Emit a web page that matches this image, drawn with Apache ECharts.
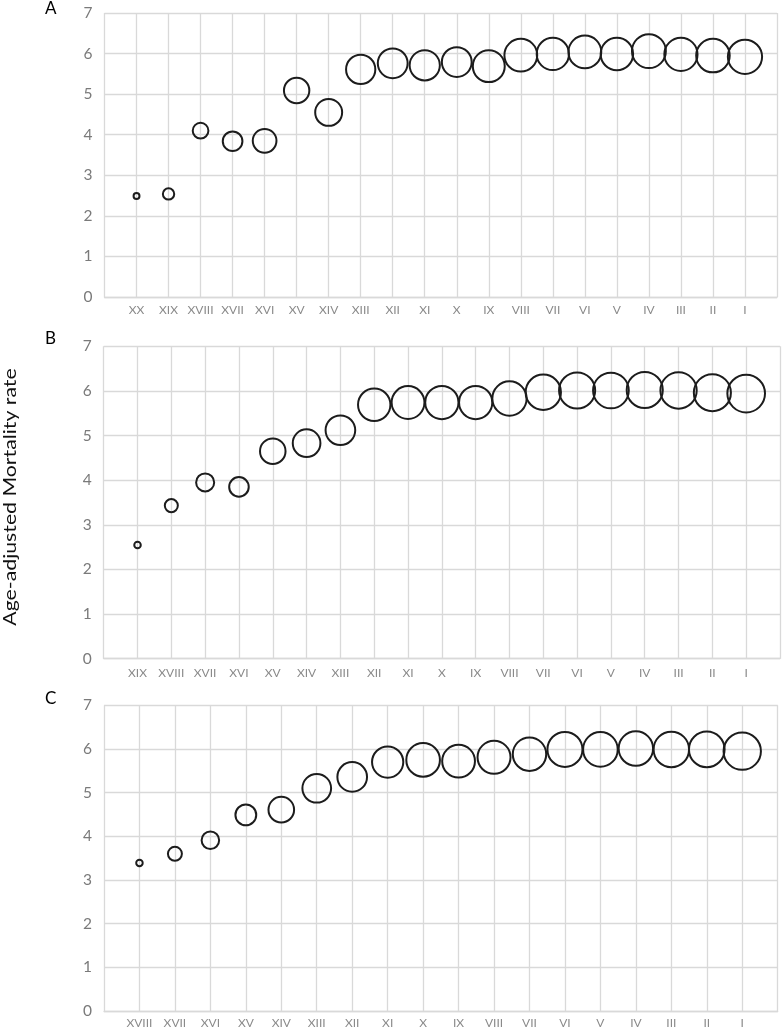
<!DOCTYPE html>
<html>
<head>
<meta charset="utf-8">
<script src="https://cdn.jsdelivr.net/npm/echarts@6/dist/echarts.min.js"></script>
<style>
html,body{margin:0;padding:0;background:#fff;}
#chart{width:783px;height:1029px;}
</style>
</head>
<body>
<div id="chart"></div>
<script>
// ---- Data ----
var labelsA = ['XX','XIX','XVIII','XVII','XVI','XV','XIV','XIII','XII','XI','X','IX','VIII','VII','VI','V','IV','III','II','I'];
var ratesA  = [2.49, 2.54, 4.10, 3.84, 3.85, 5.09, 4.55, 5.61, 5.76, 5.71, 5.79, 5.69, 5.96, 5.99, 6.04, 5.99, 6.06, 5.98, 5.95, 5.92];
var weightsA = [3, 11, 21, 33, 48, 55, 62, 73, 76, 78, 76, 87, 92, 89, 92, 90, 98, 94, 96, 100];

var labelsB = ['XIX','XVIII','XVII','XVI','XV','XIV','XIII','XII','XI','X','IX','VIII','VII','VI','V','IV','III','II','I'];
var ratesB  = [2.55, 3.43, 3.95, 3.85, 4.65, 4.83, 5.12, 5.69, 5.74, 5.74, 5.74, 5.83, 5.97, 6.01, 6.01, 6.02, 6.01, 5.96, 5.94];
var weightsB = [3, 12, 23, 27, 46, 54, 62, 74, 76, 78, 78, 83, 88, 92, 90, 92, 93, 97, 100];

var labelsC = ['XVIII','XVII','XVI','XV','XIV','XIII','XII','XI','X','IX','VIII','VII','VI','V','IV','III','II','I'];
var ratesC  = [3.39, 3.60, 3.91, 4.49, 4.61, 5.10, 5.36, 5.70, 5.75, 5.72, 5.81, 5.88, 5.99, 5.99, 6.01, 5.99, 5.99, 5.95];
var weightsC = [3, 14, 22, 31, 47, 59, 63, 70, 81, 77, 78, 80, 88, 86, 85, 90, 91, 100];

var yTicks = [0, 1, 2, 3, 4, 5, 6, 7];
var panelNames = ['A', 'B', 'C'];
var yTitle = 'Age-adjusted Mortality rate';

// ---- Layout ----
var panels = [
  {labels: labelsA, rates: ratesA, weights: weightsA, grid: {left: 104.5, top: 13, width: 672.5, height: 284}, letterTop: 0, labelMargin: 7},
  {labels: labelsB, rates: ratesB, weights: weightsB, grid: {left: 103.7, top: 346.3, width: 678, height: 312.4}, letterTop: 330, labelMargin: 8},
  {labels: labelsC, rates: ratesC, weights: weightsC, grid: {left: 104, top: 705.3, width: 673.7, height: 310}, letterTop: 690, labelMargin: 6}
];

var FONT = 'Lato, "Open Sans", sans-serif';
var GRID_COLOR = '#d9d9d9';
var grids = [], xAxes = [], yAxes = [], series = [], graphics = [];

panels.forEach(function (p, i) {
  grids.push(p.grid);
  var n = p.labels.length;
  var maxD = p.grid.height * 0.1205;
  xAxes.push({
    type: 'value', gridIndex: i, min: 0, max: n + 1, interval: 1,
    axisLine: {show: true, lineStyle: {color: GRID_COLOR, width: 1.3}},
    axisTick: {show: false},
    splitLine: {show: true, lineStyle: {color: GRID_COLOR, width: 1.3}},
    axisLabel: {
      color: '#8a8a8a', fontSize: 12, fontFamily: FONT, margin: p.labelMargin,
      formatter: (function (labs) { return function (v) { return labs[v - 1] || ''; }; })(p.labels)
    }
  });
  yAxes.push({
    type: 'value', gridIndex: i, min: yTicks[0], max: yTicks[yTicks.length - 1], interval: 1,
    axisLine: {show: false}, axisTick: {show: false},
    splitLine: {show: true, lineStyle: {color: GRID_COLOR, width: 1.3}},
    axisLabel: {color: '#7a7a7a', fontSize: 15.5, fontFamily: FONT, margin: 12}
  });
  series.push({
    type: 'scatter', xAxisIndex: i, yAxisIndex: i,
    data: p.rates.map(function (r, k) { return [k + 1, r, p.weights[k]]; }),
    symbol: 'circle',
    symbolSize: (function (md) { return function (d) { return md * Math.sqrt(d[2] / 100); }; })(maxD),
    itemStyle: {color: 'rgba(0,0,0,0)', borderColor: '#1c1c1c', borderWidth: 2, opacity: 1},
    silent: true, animation: false
  });
  graphics.push({
    type: 'text', left: 45, top: p.letterTop,
    style: {text: panelNames[i], fontSize: 17, fontFamily: FONT, fill: '#000'}
  });
});

graphics.push({
  type: 'text', x: 1, y: 497, rotation: Math.PI / 2, scaleX: 1.18, scaleY: 1,
  style: {text: yTitle, fontSize: 18, fontFamily: FONT, fill: '#111', align: 'center', verticalAlign: 'top'},
  originX: 0, originY: 0
});

var chart = echarts.init(document.getElementById('chart'), null, {renderer: 'canvas'});
chart.setOption({
  animation: false,
  backgroundColor: '#fff',
  grid: grids, xAxis: xAxes, yAxis: yAxes, series: series,
  graphic: graphics
});
</script>
</body>
</html>
